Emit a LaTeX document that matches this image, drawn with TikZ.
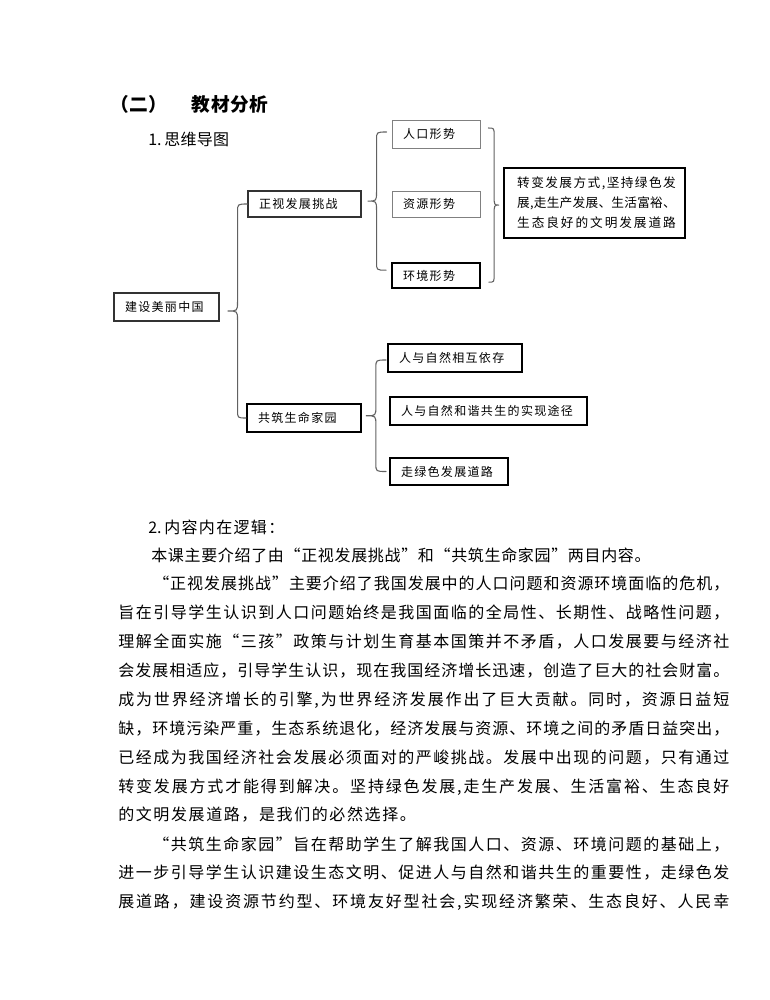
\documentclass[tikz,border=0pt]{standalone}
\usepackage{fontspec}
\setmainfont{Noto Sans CJK SC}
\usetikzlibrary{calc}
\ExplSyntaxOn
\cs_new_protected:Npn \my_spread:nn #1#2
 {
  \bool_set_true:N \l_tmpa_bool
  \tl_map_inline:nn {#2}
   {
    \bool_if:NTF \l_tmpa_bool { \bool_set_false:N \l_tmpa_bool } { #1 }
    ##1
   }
 }
\NewDocumentCommand \jl { m m } { \hbox~to~#1 { \my_spread:nn { \hskip~0pt~plus~1fil } {#2} } }
\NewDocumentCommand \ls { m m } { \my_spread:nn { \hskip~#1 } {#2} }
\ExplSyntaxOff
\newcommand\bl[2]{\makebox[#1][l]{\ls{1pt}{#2}}}
\newcommand\mybr[4]{%
 \coordinate (bT) at (#1);
 \coordinate (bB) at (#2);
 \coordinate (bM) at ($(bT)!0.5!(bB)$);
 \coordinate (bP) at (#3 |- bM);
 \coordinate (bV) at ([xshift=#4]bP);
 \coordinate (bVT) at (bV |- bT);
 \coordinate (bVB) at (bV |- bB);
 \draw[brc] (bT) .. controls (bVT) .. ([yshift=-6pt]bVT) -- ([yshift=7pt]bV) .. controls (bV) .. (bP) .. controls (bV) .. ([yshift=-7pt]bV) -- ([yshift=6pt]bVB) .. controls (bVB) .. (bB);}
\tikzset{
 brc/.style={draw=black!62, line width=0.8pt, line cap=round},
 bx/.style={draw, rectangle, inner xsep=8.25pt, inner ysep=0pt, font=\fontsize{9pt}{11pt}\selectfont},
 bthin/.style={draw=black!50, line width=0.6pt},
 bmed/.style={draw=black!80, line width=0.8pt},
 bthick/.style={draw=black, line width=1.3pt},
 txt/.style={anchor=west, inner sep=0pt, font=\fontsize{12pt}{14pt}\selectfont},
}
\begin{document}
\begin{tikzpicture}[x=0.75pt,y=-0.75pt]
\fill[white] (0,0) rectangle (770,1000);
\path[use as bounding box] (0,0) rectangle (770,1000);

\node[txt, font=\fontsize{14pt}{16pt}\selectfont\bfseries] (h) at (110,104) {\ls{0.5pt}{（二）}\hspace{18pt}\ls{0.6pt}{教材分析}};
\node[txt] (s1) at (148,139) {1.\hspace{2pt}\ls{0.2pt}{思维导图}};

% mind map boxes
\node[bx,bthin,minimum width=66pt,minimum height=21pt] (rk) at (436,134) {\bl{49.5pt}{人口形势}};
\node[bx,bthin,minimum width=66pt,minimum height=19.5pt] (zy) at (436,204) {\bl{49.5pt}{资源形势}};
\node[bx,bthick,minimum width=66pt,minimum height=18.75pt] (hj) at (436,275.5) {\bl{49.5pt}{环境形势}};
\node[bx,bmed,minimum width=84.75pt,minimum height=19.5pt] (zs) at (304.5,204) {\bl{68.25pt}{正视发展挑战}};
\node[bx,bthick,inner xsep=6pt,minimum width=135.75pt,minimum height=52.5pt,align=left,font=\fontsize{9.5pt}{15pt}\selectfont] (big) at (594.5,203)
 {\hspace{3pt}\jl{119pt}{转变发展方式,坚持绿色发}\\\hspace{3pt}\jl{119pt}{展,走生产发展、生活富裕、}\\\hspace{3pt}\jl{119pt}{生态良好的文明发展道路}};
\node[bx,bmed,minimum width=78.75pt,minimum height=21pt] (root) at (166.5,307) {\bl{62.25pt}{建设美丽中国}};
\node[bx,bthick,minimum width=85.5pt,minimum height=21pt] (gz) at (304,418) {\bl{69pt}{共筑生命家园}};
\node[bx,bthick,minimum width=100.5pt,minimum height=21pt] (a) at (455,358) {\bl{84pt}{人与自然相互依存}};
\node[bx,bthick,minimum width=147.75pt,minimum height=21pt] (b) at (488.5,411) {\bl{131.25pt}{人与自然和谐共生的实现途径}};
\node[bx,bthick,minimum width=88.5pt,minimum height=20.25pt] (c) at (449,471.5) {\bl{72pt}{走绿色发展道路}};

% braces
\coordinate (m1) at ([xshift=6pt]root.east);
\mybr{zs.west}{gz.west}{m1}{7.5pt}
\coordinate (t2) at ([xshift=-3.75pt,yshift=1.5pt]rk.west);
\coordinate (b2) at ([xshift=-3.75pt,yshift=4pt]hj.west);
\coordinate (m2) at ([xshift=4.5pt]zs.east);
\mybr{t2}{b2}{m2}{6.75pt}
\coordinate (t3) at ([xshift=6pt,yshift=4.5pt]rk.east);
\coordinate (b3) at ([xshift=6pt,yshift=-5pt]hj.east);
\coordinate (m3) at ([xshift=-3pt]big.west);
\mybr{t3}{b3}{m3}{-3.75pt}
\coordinate (t4) at ([xshift=-0.75pt,yshift=-1.5pt]a.west);
\coordinate (b4) at ([xshift=-2.25pt]c.west);
\coordinate (m4) at ([xshift=3pt]gz.east);
\mybr{t4}{b4}{m4}{7.5pt}

% body text
\node[txt] (s2) at (148,527) {2.\hspace{2pt}\ls{1pt}{内容内在逻辑：}};
\node[txt] (l1) at (151,555) {\ls{0.5pt}{本课主要介绍了由“正视发展挑战”和“共筑生命家园”两目内容。}};
\node[txt] (l2) at (153,584) {\jl{432pt}{“正视发展挑战”主要介绍了我国发展中的人口问题和资源环境面临的危机，}};
\node[txt] (l3) at (118,613) {\jl{458.25pt}{旨在引导学生认识到人口问题始终是我国面临的全局性、长期性、战略性问题，}};
\node[txt] (l4) at (118,642) {\jl{458.25pt}{理解全面实施“三孩”政策与计划生育基本国策并不矛盾，人口发展要与经济社}};
\node[txt] (l5) at (118,671) {\jl{458.25pt}{会发展相适应，引导学生认识，现在我国经济增长迅速，创造了巨大的社会财富。}};
\node[txt] (l6) at (118,700) {\jl{458.25pt}{成为世界经济增长的引擎,为世界经济发展作出了巨大贡献。同时，资源日益短}};
\node[txt] (l7) at (118,729) {\jl{458.25pt}{缺，环境污染严重，生态系统退化，经济发展与资源、环境之间的矛盾日益突出，}};
\node[txt] (l8) at (118,758) {\jl{458.25pt}{已经成为我国经济社会发展必须面对的严峻挑战。发展中出现的问题，只有通过}};
\node[txt] (l9) at (118,787) {\jl{458.25pt}{转变发展方式才能得到解决。坚持绿色发展,走生产发展、生活富裕、生态良好}};
\node[txt] (l10) at (118,815) {\ls{1.2pt}{的文明发展道路，是我们的必然选择。}};
\node[txt] (l11) at (153,845) {\jl{432pt}{“共筑生命家园”旨在帮助学生了解我国人口、资源、环境问题的基础上，}};
\node[txt] (l12) at (118,873) {\jl{458.25pt}{进一步引导学生认识建设生态文明、促进人与自然和谐共生的重要性，走绿色发}};
\node[txt] (l13) at (118,902) {\jl{458.25pt}{展道路，建设资源节约型、环境友好型社会,实现经济繁荣、生态良好、人民幸}};
\end{tikzpicture}
\end{document}
